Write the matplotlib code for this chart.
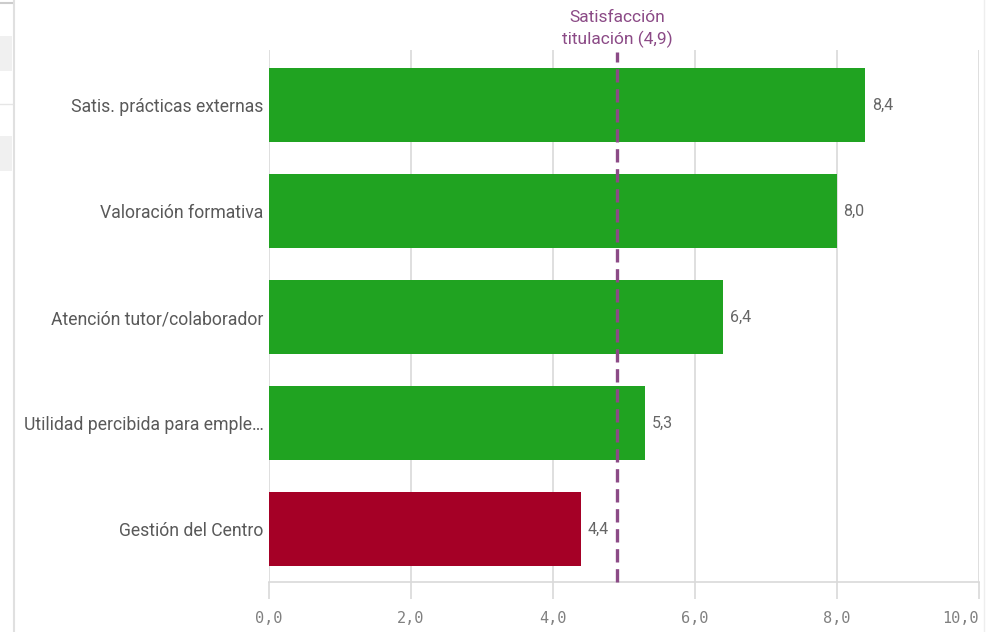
import matplotlib.pyplot as plt
from matplotlib.patches import Rectangle
from matplotlib.lines import Line2D

# Data
categories = ['Satis. prácticas externas', 'Valoración formativa',
              'Atención tutor/colaborador', 'Utilidad percibida para emple…',
              'Gestión del Centro']
values = [8.4, 8.0, 6.4, 5.3, 4.4]
bar_colors = ['#20a321', '#20a321', '#20a321', '#20a321', '#a50026']
ref_value = 4.9
ref_label = 'Satisfacción\ntitulación (4,9)'
xticks = [0, 2, 4, 6, 8, 10]

plt.rcParams['font.family'] = ['Roboto', 'DejaVu Sans']

fig = plt.figure(figsize=(9.98, 6.32), dpi=100)
W, H = 998, 632
ax = fig.add_axes([269 / W, 1 - 582 / H, (979 - 269) / W, (582 - 50) / H])

n = len(categories)
ypos = [n - 1 - i for i in range(n)]
ax.barh(ypos, values, height=0.70, color=bar_colors, zorder=2)
ax.set_xlim(0, 10)
ax.set_ylim(-0.5, n - 0.48)

# grid
for x in xticks:
    ax.axvline(x, color='#d9d9d9', lw=1.2, zorder=1)

for s in ax.spines.values():
    s.set_visible(False)
ax.spines['bottom'].set_visible(True)
ax.spines['bottom'].set_color('#d9d9d9')
ax.spines['bottom'].set_linewidth(1.2)

ax.set_xticks(xticks)
ax.set_xticklabels([f'{x:.1f}'.replace('.', ',') for x in xticks],
                   family='DejaVu Sans Mono', fontsize=11, color='#808080')
ax.get_xticklabels()[-1].set_horizontalalignment('right')
ax.get_xticklabels()[-1].set_x(10.02)
ax.tick_params(axis='x', length=12, width=1.2, color='#d9d9d9', pad=9)
ax.set_yticks(ypos)
ax.set_yticklabels(categories, fontsize=12.7, color='#595959')
ax.tick_params(axis='y', length=0, pad=4)

# value labels
for y, v in zip(ypos, values):
    ax.text(v + 0.09, y, f'{v:.1f}'.replace('.', ','), va='center', ha='left',
            fontsize=11.5, color='#666666', zorder=3)

# reference line
ax.plot([ref_value, ref_value], [-0.5, n - 0.5], ls=(0, (4, 2)), lw=2.4,
        color='#8b4a86', zorder=4, clip_on=False)
ax.text(ref_value, n - 0.46, ref_label, ha='center', va='bottom',
        fontsize=12.5, color='#8b4a86', linespacing=1.4)

# page artifacts on the left / right edges
fig.add_artist(Line2D([13.5 / W, 13.5 / W], [0, 1], color='#e0e0e0', lw=1.5))
fig.add_artist(Line2D([983.5 / W, 983.5 / W], [0, 1], color='#eeeeee', lw=1.0))
fig.add_artist(Line2D([0, 12 / W], [1 - 3 / H, 1 - 3 / H], color='#cccccc', lw=1.5))
fig.add_artist(Line2D([0, 12 / W], [1 - 104 / H, 1 - 104 / H], color='#e6e6e6', lw=1.0))
for top, bot in [(36, 71), (136, 171)]:
    fig.add_artist(Rectangle((0, 1 - bot / H), 12 / W, (bot - top) / H,
                             color='#f0f0f0', lw=0))

fig.savefig('out.png', dpi=100)
